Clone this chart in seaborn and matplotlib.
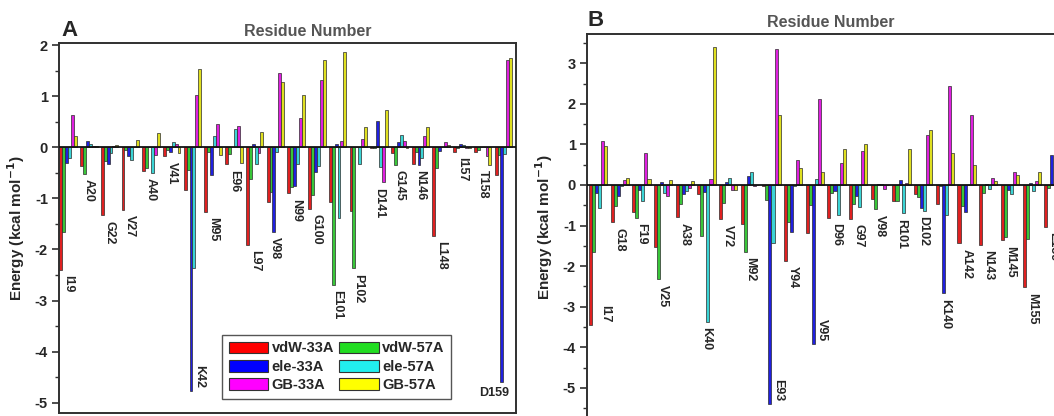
import numpy as np
import pandas as pd
import matplotlib
matplotlib.use('Agg')
import matplotlib.pyplot as plt
from matplotlib.patches import Patch
from matplotlib.ticker import MultipleLocator
import seaborn as sns

# per-residue energy terms (kcal/mol)
terms = ['vdW-33A', 'vdW-57A', 'ele-33A', 'ele-57A', 'GB-33A', 'GB-57A']

residues_A = ['I19', 'A20', 'G22', 'V27', 'A40', 'V41', 'K42', 'M95', 'E96', 'L97', 'V98',
              'N99', 'G100', 'E101', 'P102', 'D141', 'G145', 'N146', 'L148', 'I157', 'T158', 'D159']
vdw33_A = [-2.40, -0.37, -1.33, -1.22, -0.46, -0.18, -0.83, -1.26, -0.33, -1.91, -1.08,
           -0.90, -1.20, -1.07, -1.24, -0.01, -0.12, -0.32, -1.73, -0.09, -0.09, -0.54]
vdw57_A = [-1.65, -0.52, -0.26, -0.05, -0.41, -0.05, -0.44, -0.10, -0.13, -0.62, -0.88,
           -0.78, -0.93, -2.69, -2.37, -0.01, -0.34, -0.10, -0.41, -0.02, -0.06, -0.16]
ele33_A = [-0.31, 0.12, -0.33, -0.18, 0.01, -0.10, -4.77, -0.54, 0.01, 0.06, -1.65,
           -0.76, -0.48, 0.07, 0.00, 0.52, 0.10, -0.34, -0.08, 0.07, 0.00, -4.59]
ele57_A = [-0.21, 0.07, -0.11, -0.24, -0.50, 0.10, -2.37, 0.23, 0.35, -0.33, -0.09,
           -0.33, -0.37, -1.39, -0.32, -0.39, 0.24, -0.22, 0.01, 0.04, 0.01, -0.13]
gb33_A = [0.64, 0.02, 0.03, 0.01, -0.16, 0.07, 1.03, 0.46, 0.41, -0.11, 1.45,
          0.57, 1.31, 0.13, 0.16, -0.68, 0.12, 0.22, 0.10, -0.02, -0.17, 1.71]
gb57_A = [0.22, 0.03, 0.05, 0.15, 0.28, -0.11, 1.54, -0.16, -0.30, 0.30, 1.28,
          1.02, 1.70, 1.87, 0.40, 0.73, -0.02, 0.39, 0.04, -0.01, -0.34, 1.74]

residues_B = ['I17', 'G18', 'F19', 'V25', 'A38', 'K40', 'V72', 'M92', 'E93', 'Y94', 'V95',
              'D96', 'G97', 'V98', 'R101', 'D102', 'K140', 'A142', 'N143', 'M145', 'M155', 'E159']
vdw33_B = [-3.45, -0.92, -0.67, -1.54, -0.79, -0.23, -0.85, -0.95, -0.02, -1.87, -1.18,
           -0.81, -0.83, -0.34, -0.40, -0.21, -0.48, -1.43, -1.47, -1.36, -2.52, -1.03]
vdw57_B = [-1.64, -0.52, -0.81, -2.32, -0.46, -1.25, -0.44, -1.64, -0.36, -0.92, -0.50,
           -0.19, -0.48, -0.60, -0.40, -0.30, -0.02, -0.52, -0.19, -1.28, -1.32, -0.08]
ele33_B = [-0.19, -0.27, -0.13, 0.08, -0.23, -0.17, 0.07, 0.21, -5.40, -1.17, -3.91,
           -0.15, -0.27, 0.03, 0.12, -0.56, -2.67, -0.66, 0.02, -0.12, 0.06, 0.74]
ele57_B = [-0.56, -0.02, -0.40, -0.19, -0.15, -3.37, 0.18, 0.33, -1.43, -0.02, 0.14,
           -0.73, -0.55, 0.03, -0.69, -0.63, -0.75, 0.01, -0.11, -0.21, -0.15, 0.00]
gb33_B = [1.09, 0.12, 0.78, -0.26, -0.07, 0.14, -0.13, -0.02, 3.35, 0.62, 2.12,
          0.55, 0.84, -0.10, 0.06, 1.23, 2.43, 1.73, 0.16, 0.33, 0.10, 0.00]
gb57_B = [0.95, 0.17, 0.14, 0.12, 0.10, 3.39, -0.12, 0.00, 1.73, 0.43, 0.31,
          0.88, 1.02, 0.00, 0.88, 1.36, 0.80, 0.49, 0.09, 0.24, 0.32, 0.00]

colors = {'vdW-33A': '#ff0000', 'vdW-57A': '#22dd22', 'ele-33A': '#0000ff',
          'ele-57A': '#22eeee', 'GB-33A': '#ff00ff', 'GB-57A': '#ffff00'}

sns.set_style('ticks')
plt.rcParams['font.family'] = ['Liberation Sans', 'DejaVu Sans']
plt.rcParams['font.weight'] = 'bold'
plt.rcParams['axes.labelweight'] = 'bold'
plt.rcParams['axes.unicode_minus'] = False


def long_table(residues, cols):
    df = pd.DataFrame(dict(zip(terms, cols)))
    df['residue'] = residues
    return df.melt(id_vars='residue', var_name='term', value_name='energy')


def draw_panel(ax, residues, cols, ylim, xlim, flat=()):
    df = long_table(residues, cols)
    sns.barplot(data=df, x='residue', y='energy', hue='term', order=residues,
                hue_order=terms, palette=colors, width=0.84, gap=0, errorbar=None,
                edgecolor='#2b2b2b', linewidth=0.5, legend=False, ax=ax)
    ax.axhline(0, color='#111111', lw=1.3, zorder=3)
    ax.set_xlim(*xlim)
    ax.set_ylim(*ylim)
    ax.set_xlabel('')
    ax.set_ylabel('Energy (kcal mol$^{-1}$)', fontsize=11)
    ax.set_xticks([])
    ax.yaxis.set_major_locator(MultipleLocator(1))
    ax.yaxis.set_minor_locator(MultipleLocator(0.5))
    ax.tick_params(axis='y', which='major', direction='out', length=5, width=1.2,
                   labelsize=10.5, pad=3, color='#303030')
    ax.tick_params(axis='y', which='minor', direction='out', length=3, width=1.0,
                   color='#303030')
    for sp in ax.spines.values():
        sp.set_color('#303030')
        sp.set_linewidth(1.4)

    lows = np.min(np.array(cols), axis=0)
    for i, (name, low) in enumerate(zip(residues, lows)):
        if name in flat:
            ax.annotate(name, (i, low), xytext=(-7, -4), textcoords='offset points',
                        ha='center', va='top', fontsize=9)
        elif low < -3.4:
            ax.annotate(name, (i, low), xytext=(5, 2), textcoords='offset points',
                        ha='center', va='bottom', rotation=270, fontsize=9)
        else:
            ax.annotate(name, (i, low), xytext=(0, -4), textcoords='offset points',
                        ha='center', va='top', rotation=270, fontsize=9)


fig = plt.figure(figsize=(10.54, 4.16), dpi=100)
axA = fig.add_axes([59 / 1054, 3 / 416, 457 / 1054, 370 / 416])
axB = fig.add_axes([587 / 1054, -4.4 / 416, 488 / 1054, 386.4 / 416])

draw_panel(axA, residues_A, [vdw33_A, vdw57_A, ele33_A, ele57_A, gb33_A, gb57_A],
           ylim=(-5.2, 2.04), xlim=(-0.44, 21.61), flat=('D159',))
draw_panel(axB, residues_B, [vdw33_B, vdw57_B, ele33_B, ele57_B, gb33_B, gb57_B],
           ylim=(-5.8, 3.72), xlim=(-0.51, 22.0))

axA.yaxis.set_label_coords(-0.070, 0.5)
axB.yaxis.set_label_coords(-0.066, 0.5)

axA.text(0.545, 1.03, 'Residue Number', transform=axA.transAxes, ha='center',
         va='center', color='#555555', fontsize=11.5)
axB.text(0.50, 1.031, 'Residue Number', transform=axB.transAxes, ha='center',
         va='center', color='#555555', fontsize=11.5)
fig.text(70 / 1054, 1 - 31 / 416, 'A', ha='center', va='center', fontsize=16)
fig.text(596 / 1054, 1 - 20 / 416, 'B', ha='center', va='center', fontsize=16)

legend_order = ['vdW-33A', 'ele-33A', 'GB-33A', 'vdW-57A', 'ele-57A', 'GB-57A']
handles = [Patch(facecolor=colors[t], edgecolor='#333333', lw=0.8, label=t) for t in legend_order]
leg = axA.legend(handles=handles, ncol=2, loc='upper left', bbox_to_anchor=(0.357, 0.211),
                 frameon=True, fancybox=False, edgecolor='#555555', fontsize=10.5,
                 handlelength=2.7, handleheight=0.85, handletextpad=0.25,
                 columnspacing=0.35, labelspacing=0.3, borderpad=0.45, borderaxespad=0)
leg.get_frame().set_linewidth(1.0)
leg.get_frame().set_alpha(1)

fig.savefig('out.png', dpi=100)
